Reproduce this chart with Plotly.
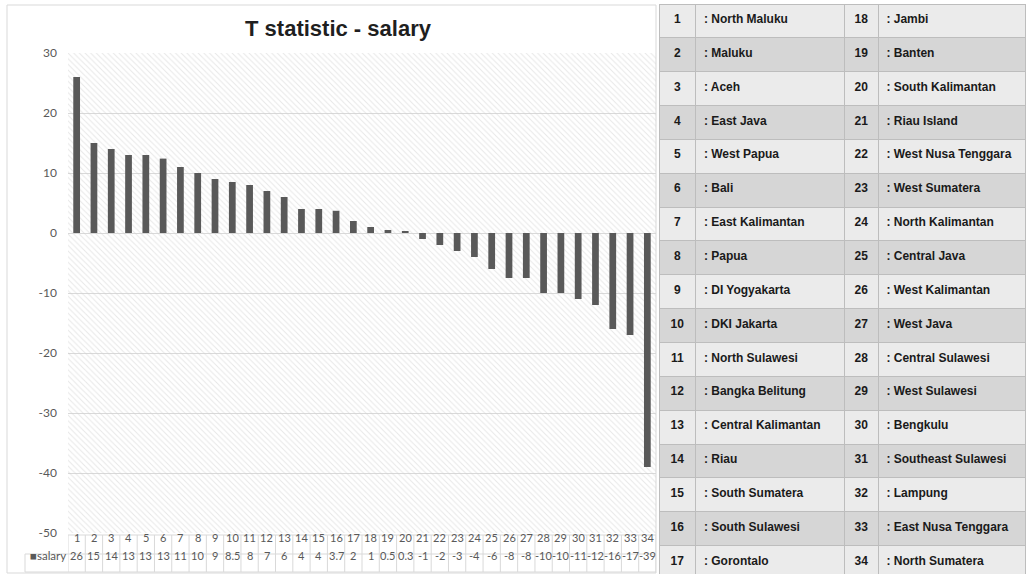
import plotly.graph_objects as go

# ---------------- data ----------------
categories = list(range(1, 35))
salary = [26, 15, 14, 13, 13, 12.4, 11, 10, 9, 8.5, 8, 7, 6, 4, 4, 3.7, 2, 1, 0.5, 0.3,
          -1, -2, -3, -4, -6, -7.5, -7.5, -10, -10, -11, -12, -16, -17, -39]
salary_labels = ["26", "15", "14", "13", "13", "13", "11", "10", "9", "8.5", "8", "7", "6",
                 "4", "4", "3.7", "2", "1", "0.5", "0.3", "-1", "-2", "-3", "-4", "-6",
                 "-8", "-8", "-10", "-10", "-11", "-12", "-16", "-17", "-39"]
provinces = ["North Maluku", "Maluku", "Aceh", "East Java", "West Papua", "Bali",
             "East Kalimantan", "Papua", "DI Yogyakarta", "DKI Jakarta", "North Sulawesi",
             "Bangka Belitung", "Central Kalimantan", "Riau", "South Sumatera",
             "South Sulawesi", "Gorontalo", "Jambi", "Banten", "South Kalimantan",
             "Riau Island", "West Nusa Tenggara", "West Sumatera", "North Kalimantan",
             "Central Java", "West Kalimantan", "West Java", "Central Sulawesi",
             "West Sulawesi", "Bengkulu", "Southeast Sulawesi", "Lampung",
             "East Nusa Tenggara", "North Sumatera"]
y_range = [-50, 30]
y_ticks = [-50, -40, -30, -20, -10, 0, 10, 20, 30]
y_tick_text = ["-50", "-40", "-30", "-20", "-10", "0", "10", "20", "30"]

# ---------------- geometry helpers ----------------
W, H = 1026, 574
def px(x):
    return x / W
def py(y):
    return 1 - y / H

n = len(categories)
x_lo, x_hi = -0.5, n - 0.5
x_idx = list(range(n))

GRAY_TXT = "#595959"
GRID = "#d9d9d9"
BAR = "#595959"
FONT = "Lato, Open Sans, sans-serif"
TFONT = "Liberation Sans, Arial, sans-serif"

fig = go.Figure()

# hatched plot background (spans the full axis range)
fig.add_trace(go.Bar(
    x=x_idx, y=[y_range[1] - y_range[0]] * n, base=y_range[0], width=1.0,
    marker=dict(color="rgba(0,0,0,0)", line=dict(width=0),
                pattern=dict(shape="\\", fgcolor="#d0d0d0", bgcolor="rgba(255,255,255,0)",
                             size=4, solidity=0.25)),
    hoverinfo="skip", showlegend=False))

fig.add_trace(go.Bar(x=x_idx, y=salary, width=0.39, marker=dict(color=BAR, line=dict(width=0)),
                     name="salary", showlegend=False))

x0p, x1p = px(68), px(656)
y0p, y1p = py(533), py(53)

fig.update_layout(
    width=W, height=H, margin=dict(l=0, r=0, t=0, b=0, pad=0, autoexpand=False),
    paper_bgcolor="white", plot_bgcolor="rgba(0,0,0,0)", barmode="overlay",
    title=dict(text="<b>T statistic - salary</b>", x=px(338), y=py(28), xanchor="center", yanchor="middle",
               font=dict(family=TFONT, size=22, color="#1f1f1f")),
    xaxis=dict(domain=[x0p, x1p], range=[x_lo, x_hi], showticklabels=False, showgrid=False,
               zeroline=False, showline=False, fixedrange=True, automargin=False),
    yaxis=dict(domain=[y0p, y1p], range=y_range, tickvals=y_ticks, ticktext=y_tick_text,
               showgrid=True, gridcolor=GRID, gridwidth=1, zeroline=True, zerolinecolor=GRID,
               zerolinewidth=1, showline=False, layer="above traces", automargin=False,
               tickfont=dict(family=FONT, size=12, color=GRAY_TXT), ticks="", ticklabelstandoff=10),
)

shapes = []
annotations = []
# chart outer border
shapes.append(dict(type="rect", xref="paper", yref="paper", x0=px(7), x1=px(656), y0=py(573), y1=py(5),
                   line=dict(color="#d9d9d9", width=1), fillcolor="rgba(0,0,0,0)", layer="below"))

# data table below the chart
t_top, t_mid, t_bot = 535, 554, 572
shapes.append(dict(type="line", xref="x", yref="paper", x0=x_lo, x1=x_hi, y0=py(t_top), y1=py(t_top),
                   line=dict(color=GRID, width=1)))
for yy in (t_mid, t_bot):
    shapes.append(dict(type="line", xref="paper", yref="paper", x0=px(25), x1=x1p, y0=py(yy), y1=py(yy),
                       line=dict(color=GRID, width=1)))
shapes.append(dict(type="line", xref="paper", yref="paper", x0=px(25), x1=px(25), y0=py(t_mid), y1=py(t_bot),
                   line=dict(color=GRID, width=1)))
for i in range(n + 1):
    xv = x_lo + i
    shapes.append(dict(type="line", xref="x", yref="paper", x0=xv, x1=xv, y0=py(t_top), y1=py(t_bot),
                       line=dict(color=GRID, width=1)))
for i, (c, lab) in enumerate(zip(categories, salary_labels)):
    annotations.append(dict(x=i, y=py((t_top + t_mid) / 2 + 1), xref="x", yref="paper", text=str(c),
                            showarrow=False, font=dict(family=FONT, size=11, color=GRAY_TXT)))
    annotations.append(dict(x=i, y=py((t_mid + t_bot) / 2 + 1), xref="x", yref="paper", text=lab,
                            showarrow=False, font=dict(family=FONT, size=11, color=GRAY_TXT)))
annotations.append(dict(x=px(28), y=py((t_mid + t_bot) / 2 + 1), xref="paper", yref="paper", xanchor="left",
                        text="<span style='color:#595959'>■</span>salary", showarrow=False,
                        font=dict(family=FONT, size=11.5, color=GRAY_TXT)))

fig.update_layout(shapes=shapes, annotations=annotations)

# province table on the right
half = n // 2
left_nums = categories[:half]
right_nums = categories[half:]
LIGHT, DARK = "#ebebeb", "#d6d6d6"
row_fill = [DARK if r % 2 == 0 else LIGHT for r in range(half - 1)]
def b(s):
    return f"<b>{s}</b>"
row_h = 33.85
fig.add_trace(go.Table(
    domain=dict(x=[px(659), 1], y=[0, py(4)]),
    columnwidth=[37, 149, 34, 147],
    header=dict(values=[b(left_nums[0]), b(": " + provinces[0]), b(right_nums[0]), b(": " + provinces[half])],
                fill_color=LIGHT, line=dict(color="#bdbdbd", width=1), height=row_h,
                align=["center", "left", "center", "left"],
                font=dict(family=TFONT, size=12, color="#1a1a1a")),
    cells=dict(values=[[b(v) for v in left_nums[1:]],
                       [b(": " + p) for p in provinces[1:half]],
                       [b(v) for v in right_nums[1:]],
                       [b(": " + p) for p in provinces[half + 1:]]],
               fill_color=[row_fill] * 4, line=dict(color="#bdbdbd", width=1), height=row_h,
               align=["center", "left", "center", "left"],
               font=dict(family=TFONT, size=12, color="#1a1a1a")),
))

fig.write_html("out.html", config={"displayModeBar": False},
               post_script="document.body.style.margin='0';document.body.style.overflow='hidden';")
